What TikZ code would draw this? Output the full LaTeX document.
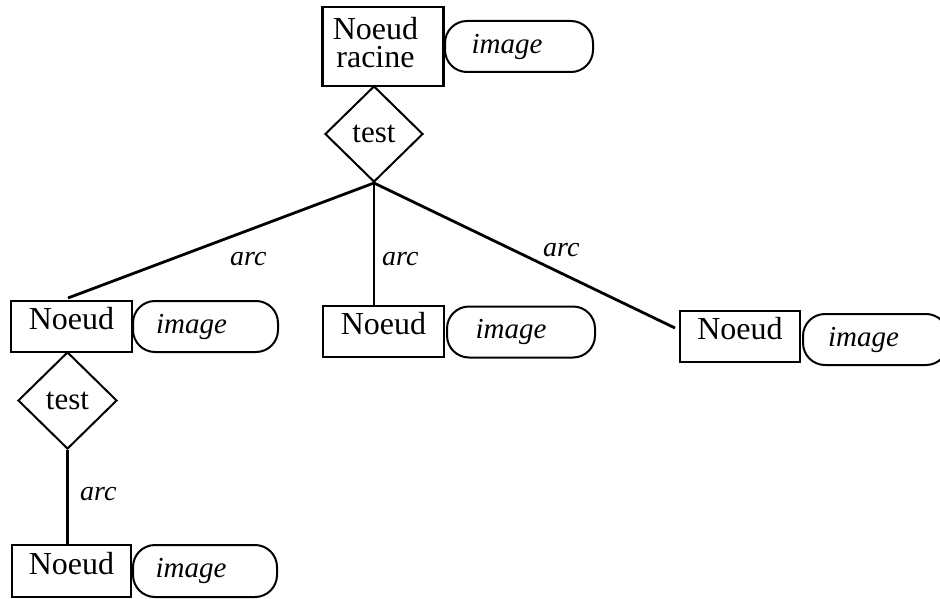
\documentclass[tikz,border=0pt]{standalone}
\usepackage{fontspec}
\setmainfont{Liberation Serif}
\usetikzlibrary{shapes.geometric}
\begin{document}
\begin{tikzpicture}[x=1pt,y=-1pt,
  every node/.style={font=\fontsize{32}{30}\selectfont},
  box/.style={draw,line width=2.4pt,rectangle,inner sep=0pt,text height=14pt,text depth=8pt},
  pill/.style={draw,line width=2pt,rounded corners=22pt,inner sep=0pt,font=\fontsize{29}{28}\selectfont\itshape},
  testbox/.style={draw,line width=2pt,diamond,inner sep=0pt,aspect=1,font=\fontsize{31}{30}\selectfont},
  edge/.style={line width=2.8pt},
  lab/.style={anchor=base west,inner sep=0pt,font=\fontsize{28}{28}\selectfont\itshape}]
\useasboundingbox (0,0) rectangle (940,599);
\clip (0,0) rectangle (940,599);
% root
\node[box,minimum width=121pt,minimum height=79pt] (root) at (383,46.5) {};
\node[align=center,inner sep=0pt,font=\fontsize{32}{28}\selectfont] (roottxt) at (375.5,42.2) {Noeud\\racine};
\node[pill,minimum width=148pt,minimum height=51pt] (rootimg) at (519,46.5) {image\kern24pt};
\node[testbox,minimum width=98pt,minimum height=96pt] (t1) at (374,134) {test};
% children
\node[box,minimum width=121pt,minimum height=51pt] (lbox) at (71.5,326.5) {Noeud};
\node[pill,minimum width=145pt,minimum height=51pt] (limg) at (205.5,326.5) {image\kern28pt};
\node[box,minimum width=121pt,minimum height=51pt] (mbox) at (383.5,331.5) {Noeud};
\node[pill,minimum width=148pt,minimum height=51pt] (mimg) at (521,332) {image\kern20pt};
\node[box,minimum width=120pt,minimum height=51pt] (rbox) at (740,336.5) {Noeud};
\node[pill,minimum width=145pt,minimum height=51pt] (rimg) at (875.5,339.5) {image\kern24pt};
\node[testbox,minimum width=99pt,minimum height=97pt] (t2) at (67.5,400.5) {test};
\node[box,minimum width=119pt,minimum height=52pt] (bbox) at (71.5,571) {Noeud};
\node[pill,minimum width=144pt,minimum height=52pt] (bimg) at (205,571) {image\kern28pt};
% connectors
\coordinate (lend) at (68,298);
\coordinate (rend) at (675,328);
\draw[edge] (t1.south) -- (lend);
\draw[edge] (t1.south) -- (t1.south |- mbox.north);
\draw[edge] (t1.south) -- (rend);
\draw[edge] (t2.south) -- (t2.south |- bbox.north);
% labels
\node[lab] (a1) at (230,265) {arc};
\node[lab] (a2) at (382,265) {arc};
\node[lab] (a3) at (543,256) {arc};
\node[lab] (a4) at (80,500) {arc};
\end{tikzpicture}
\end{document}
